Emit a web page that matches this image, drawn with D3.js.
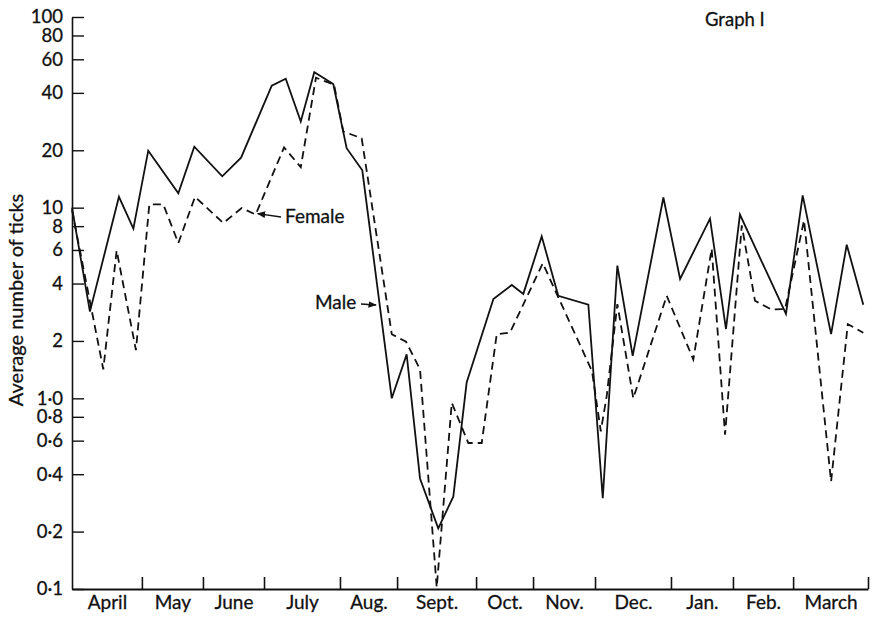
<!DOCTYPE html>
<html>
<head>
<meta charset="utf-8">
<script src="https://cdn.jsdelivr.net/npm/d3@7"></script>
<style>
  body { margin: 0; background: #fff; }
  text { font-family: Lato, "Open Sans", sans-serif; fill: #111; stroke: #111; stroke-width: 0.3px; }
</style>
</head>
<body>
<div class="chart"></div>
<script>
// x values are weeks counted from the start of April
const months = ['April', 'May', 'June', 'July', 'Aug.', 'Sept.', 'Oct.', 'Nov.', 'Dec.', 'Jan.', 'Feb.', 'March'];
const monthBounds = [0, 4.6, 8.62, 12.64, 17.64, 21.4, 26.6, 30.35, 34.43, 39.43, 43.51, 47.47, 52.4];

const maleWeeks = [0, 1.18, 3.09, 4.04, 5.02, 7.0, 8.05, 9.89, 11.13, 13.15, 14.07, 15.06, 15.95, 17.2, 18.08, 19.11,
  21.05, 22.03, 22.91, 24.11, 25.1, 25.98, 27.74, 28.95, 29.71, 30.92, 32.01, 33.99, 34.94, 35.9, 36.91, 38.93,
  40.03, 42.0, 43.05, 43.97, 47.0, 48.1, 49.97, 51.0, 52.09];
const maleTicks = [10, 2.85, 11.4, 7.76, 19.9, 11.9, 20.9, 14.6, 18.3, 43.6, 47.5, 28.3, 51.3, 44.5, 20.5, 15.7,
  1.0, 1.7, 0.38, 0.208, 0.305, 1.21, 3.32, 3.93, 3.53, 7.07, 3.45, 3.1, 0.299, 4.97, 1.67, 11.3,
  4.23, 8.76, 2.31, 9.2, 2.77, 11.6, 2.17, 6.39, 3.1];

const femaleWeeks = [0, 2.06, 2.94, 4.21, 5.09, 6.01, 7.0, 8.1, 9.96, 11.17, 12.09, 13.96, 15.06, 16.06, 17.25, 17.86,
  19.07, 21.05, 21.99, 22.91, 24.01, 25.0, 26.09, 26.97, 27.96, 28.83, 30.99, 34.23, 34.81, 35.2, 35.9, 36.95,
  39.15, 40.9, 42.11, 42.99, 44.09, 44.96, 46.06, 46.94, 48.19, 49.97, 51.07, 52.09];
const femaleTicks = [9.7, 1.42, 5.96, 1.79, 10.4, 10.4, 6.52, 11.4, 8.3, 9.96, 9.2, 20.7, 16.3, 48, 44.2, 25.1,
  23.1, 2.17, 1.98, 1.42, 0.102, 0.947, 0.583, 0.583, 2.17, 2.21, 5.11, 1.39, 0.672, 1.03, 3.12, 1.0,
  3.45, 1.6, 6.09, 0.645, 8.08, 3.25, 2.92, 2.94, 8.58, 0.366, 2.45, 2.21];

const yTicks = [0.1, 0.2, 0.4, 0.6, 0.8, 1, 2, 4, 6, 8, 10, 20, 40, 60, 80, 100];
const yTickLabels = ['0·1', '0·2', '0·4', '0·6', '0·8', '1·0', '2', '4', '6', '8', '10', '20', '40', '60', '80', '100'];

const width = 873;
const height = 621;

const x = d3.scaleLinear()
  .domain([0, 52.4])
  .range([72, 868]);

const y = d3.scaleLog()
  .domain([0.1, 100])
  .range([589, 17]);

const svg = d3.select('.chart')
  .append('svg')
  .attr('width', width)
  .attr('height', height);

// y axis, ticks pointing inward
const yAxis = svg.append('g')
  .attr('transform', `translate(${x(0)},0)`)
  .call(d3.axisLeft(y)
    .tickValues(yTicks)
    .tickFormat((d, i) => yTickLabels[i])
    .tickSizeInner(-12)
    .tickSizeOuter(0)
    .tickPadding(9));
yAxis.select('.domain').attr('stroke', '#111').attr('stroke-width', 1.6);
yAxis.selectAll('.tick line').attr('stroke', '#111').attr('stroke-width', 1.4);
yAxis.selectAll('text').style('font-size', '18.5px').attr('fill', '#111');

// x axis: month boundary ticks
const xAxis = svg.append('g')
  .attr('transform', `translate(0,${y(0.1)})`)
  .call(d3.axisBottom(x)
    .tickValues(monthBounds.slice(1))
    .tickFormat('')
    .tickSizeInner(-12)
    .tickSizeOuter(0));
xAxis.select('.domain').attr('stroke', '#111').attr('stroke-width', 2);
xAxis.selectAll('.tick line').attr('stroke', '#111').attr('stroke-width', 1.6);

// month names centred between boundaries
const mids = months.map((m, i) => (monthBounds[i] + monthBounds[i + 1]) / 2);
const monthAxis = svg.append('g')
  .attr('transform', `translate(0,${y(0.1)})`)
  .call(d3.axisBottom(x)
    .tickValues(mids)
    .tickFormat((d, i) => months[i])
    .tickSize(0)
    .tickPadding(7));
monthAxis.select('.domain').remove();
monthAxis.selectAll('text').style('font-size', '19px').attr('fill', '#111');

svg.append('text')
  .attr('transform', 'translate(23,300) rotate(-90)')
  .attr('text-anchor', 'middle')
  .style('font-size', '20px')
  .text('Average number of ticks');

const line = d3.line()
  .x(d => x(d[0]))
  .y(d => y(d[1]));

svg.append('path')
  .datum(d3.zip(maleWeeks, maleTicks))
  .attr('d', line)
  .attr('fill', 'none')
  .attr('stroke', '#111')
  .attr('stroke-width', 1.8)
  .attr('stroke-linejoin', 'miter');

svg.append('path')
  .datum(d3.zip(femaleWeeks, femaleTicks))
  .attr('d', line)
  .attr('fill', 'none')
  .attr('stroke', '#111')
  .attr('stroke-width', 1.8)
  .attr('stroke-dasharray', '8,5');

// labels with arrows
svg.append('defs').append('marker')
  .attr('id', 'arr')
  .attr('viewBox', '0 0 10 10')
  .attr('refX', 9).attr('refY', 5)
  .attr('markerWidth', 6).attr('markerHeight', 6)
  .attr('orient', 'auto')
  .append('path')
  .attr('d', 'M0,1L10,5L0,9Z')
  .attr('fill', '#111');

svg.append('text')
  .attr('x', 285).attr('y', 223)
  .style('font-size', '19px')
  .text('Female');
svg.append('line')
  .attr('x1', 281).attr('y1', 217)
  .attr('x2', x(12.09) + 2).attr('y2', y(9.2) - 1)
  .attr('stroke', '#111').attr('stroke-width', 1.4)
  .attr('marker-end', 'url(#arr)');

svg.append('text')
  .attr('x', 315).attr('y', 309)
  .style('font-size', '19px')
  .text('Male');
svg.append('line')
  .attr('x1', 361).attr('y1', 304)
  .attr('x2', 376).attr('y2', 305)
  .attr('stroke', '#111').attr('stroke-width', 1.4)
  .attr('marker-end', 'url(#arr)');

svg.append('text')
  .attr('x', 705).attr('y', 26)
  .style('font-size', '18.5px')
  .text('Graph I');
</script>
</body>
</html>
